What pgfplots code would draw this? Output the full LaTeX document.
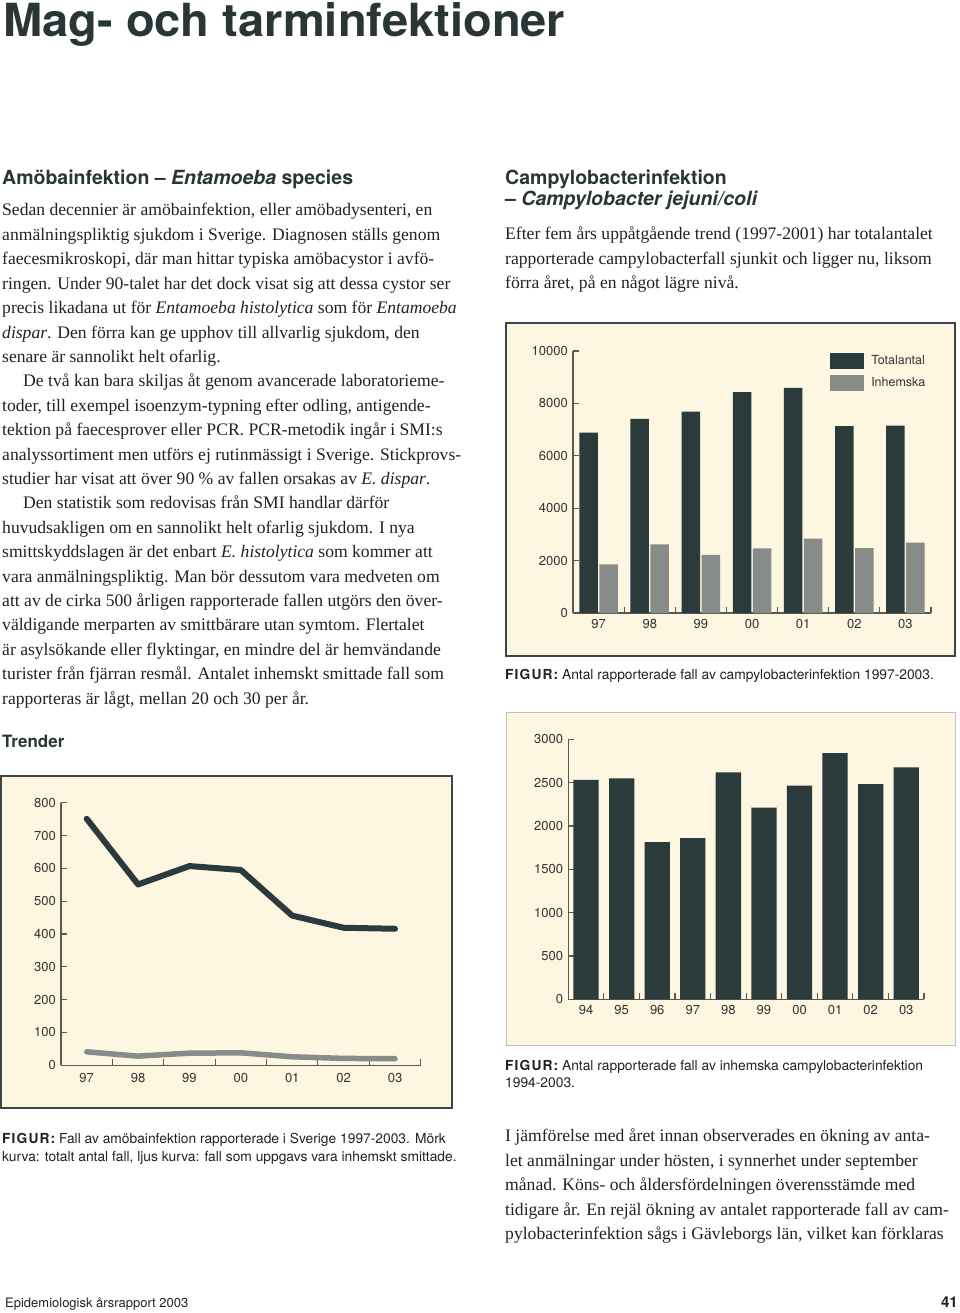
\documentclass[border=0pt]{standalone}
\usepackage{fontspec}
\setmainfont{Liberation Serif}
\setsansfont{TeX Gyre Heros}
\usepackage{pgfplots}
\pgfplotsset{compat=1.18}
\definecolor{dark}{HTML}{2B3A3A}
\definecolor{light}{HTML}{878C8A}
\definecolor{cream}{HTML}{FDF6E1}
\definecolor{framec}{HTML}{3C4646}
\definecolor{axiscol}{HTML}{5A5A55}
\definecolor{head}{HTML}{2A3636}
\definecolor{txt}{HTML}{222222}
\newcommand\bodyfont{\fontsize{17.6}{24}\selectfont}
\newcommand\headfont{\sffamily\bfseries\fontsize{19.5}{22}\selectfont}
\newcommand\capfont{\sffamily\fontsize{13.8}{18}\selectfont}
\newcommand\figur{{\bfseries\addfontfeature{LetterSpace=8}FIGUR:}}
\newcommand\bl[3]{\node[anchor=base west,inner sep=0pt,font=\bodyfont,text=txt] at (#1pt,-#2pt) {#3};}
\newcommand\hl[3]{\node[anchor=base west,inner sep=0pt,font=\headfont,text=head] at (#1pt,-#2pt) {#3};}
\newcommand\cl[3]{\node[anchor=base west,inner sep=0pt,font=\capfont,text=txt] at (#1pt,-#2pt) {#3};}
\pgfplotsset{pagestyle/.style={
  scale only axis, clip=false,
  axis x line*=bottom, axis y line*=left,
  axis line style={axiscol, line width=1.1pt},
  tick align=inside, major tick length=6pt,
  tick style={axiscol, line width=1.1pt},
  ticklabel style={font=\sffamily\fontsize{13}{13}\selectfont, text=black!80},
  xticklabel style={yshift=-2.7pt},
  yticklabel style={xshift=-1.7pt},
  /pgf/number format/assume math mode=true,
  /pgf/number format/1000 sep={},
  scaled y ticks=false,
  ymin=0,
}}
\begin{document}
\begin{tikzpicture}[x=1pt,y=1pt]
\fill[white] (0,0) rectangle (960,-1313);
% title
\node[anchor=base west,inner sep=0pt,text=head] at (3pt,-37pt) {\resizebox{562pt}{34pt}{\sffamily\bfseries\fontsize{46}{46}\selectfont Mag- och tarminfektioner}};
% left column
\hl{2}{185}{Amöbainfektion -- \textit{Entamoeba} species}
\bl{2}{216}{Sedan decennier är amöbainfektion, eller amöbadysenteri, en}
\bl{2}{240.4}{anmälningspliktig sjukdom i Sverige. Diagnosen ställs genom}
\bl{2}{264.8}{faecesmikroskopi, där man hittar typiska amöbacystor i avfö-}
\bl{2}{289.2}{ringen. Under 90-talet har det dock visat sig att dessa cystor ser}
\bl{2}{313.6}{precis likadana ut för \textit{Entamoeba histolytica} som för \textit{Entamoeba}}
\bl{2}{338}{\textit{dispar}. Den förra kan ge upphov till allvarlig sjukdom, den}
\bl{2}{362.4}{senare är sannolikt helt ofarlig.}
\bl{23}{386.8}{De två kan bara skiljas åt genom avancerade laboratorieme-}
\bl{2}{411.2}{toder, till exempel isoenzym-typning efter odling, antigende-}
\bl{2}{435.6}{tektion på faecesprover eller PCR. PCR-metodik ingår i SMI:s}
\bl{2}{460}{analyssortiment men utförs ej rutinmässigt i Sverige. Stickprovs-}
\bl{2}{484.4}{studier har visat att över 90 \% av fallen orsakas av \textit{E. dispar}.}
\bl{23}{508.8}{Den statistik som redovisas från SMI handlar därför}
\bl{2}{533.2}{huvudsakligen om en sannolikt helt ofarlig sjukdom. I nya}
\bl{2}{557.6}{smittskyddslagen är det enbart \textit{E. histolytica} som kommer att}
\bl{2}{582}{vara anmälningspliktig. Man bör dessutom vara medveten om}
\bl{2}{606.4}{att av de cirka 500 årligen rapporterade fallen utgörs den över-}
\bl{2}{630.8}{väldigande merparten av smittbärare utan symtom. Flertalet}
\bl{2}{655.2}{är asylsökande eller flyktingar, en mindre del är hemvändande}
\bl{2}{679.6}{turister från fjärran resmål. Antalet inhemskt smittade fall som}
\bl{2}{704}{rapporteras är lågt, mellan 20 och 30 per år.}
\hl{2}{747}{\fontsize{17}{20}\selectfont Trender}
% right column
\hl{505}{185}{Campylobacterinfektion}
\hl{505}{206}{-- \textit{Campylobacter jejuni/coli}}
\bl{505}{240}{Efter fem års uppåtgående trend (1997-2001) har totalantalet}
\bl{505}{264.4}{rapporterade campylobacterfall sjunkit och ligger nu, liksom}
\bl{505}{288.8}{förra året, på en något lägre nivå.}
% frames
\filldraw[fill=cream, draw=framec, line width=2pt] (506,-323) rectangle (955,-656);
\filldraw[fill=cream, draw=black!25, line width=0.8pt] (506,-712) rectangle (955,-1045);
\filldraw[fill=cream, draw=framec, line width=2pt] (1,-776) rectangle (452,-1108);
% captions
\cl{505}{679}{\figur\ Antal rapporterade fall av campylobacterinfektion 1997-2003.}
\cl{505}{1070}{\figur\ Antal rapporterade fall av inhemska campylobacterinfektion}
\cl{505}{1087}{1994-2003.}
\cl{2}{1143}{\figur\ Fall av amöbainfektion rapporterade i Sverige 1997-2003. Mörk}
\cl{2}{1161}{kurva: totalt antal fall, ljus kurva: fall som uppgavs vara inhemskt smittade.}
% bottom right text
\bl{505}{1141.5}{I jämförelse med året innan observerades en ökning av anta-}
\bl{505}{1166}{let anmälningar under hösten, i synnerhet under september}
\bl{505}{1190.5}{månad. Köns- och åldersfördelningen överensstämde med}
\bl{505}{1215}{tidigare år. En rejäl ökning av antalet rapporterade fall av cam-}
\bl{505}{1239.5}{pylobacterinfektion sågs i Gävleborgs län, vilket kan förklaras}
% footer
\node[anchor=base west,inner sep=0pt,font=\sffamily\fontsize{13}{13}\selectfont,text=txt] at (5pt,-1307pt) {Epidemiologisk årsrapport 2003};
\node[anchor=base east,inner sep=0pt,font=\sffamily\bfseries\fontsize{15}{15}\selectfont,text=txt] at (958pt,-1307pt) {41};

% Chart 1: campylobacter 1997-2003
\begin{axis}[pagestyle,
  at={(573pt,-613pt)}, anchor=south west,
  width=358pt, height=262pt,
  xmin=-0.5, xmax=6.5, ymax=10000,
  ytick={0,2000,4000,6000,8000,10000},
  xtick={-0.5,0.5,1.5,2.5,3.5,4.5,5.5,6.5},
  xticklabels={97,98,99,00,01,02,03,{}},
  xticklabel style={xshift=25.6pt},
  legend style={at={(0.718,0.994)}, anchor=north west, draw=none, fill=none,
    font=\sffamily\fontsize{12.5}{12.5}\selectfont, text=black!80,
    row sep=5.7pt, inner sep=0pt, nodes={inner sep=0pt, anchor=west},
    /tikz/every odd column/.style={column sep=7pt}},
]
\addplot[ybar, fill=dark, draw=none, bar width=18.5pt, bar shift=-10pt,
  legend image code/.code={\fill[dark] (0pt,-8.3pt) rectangle (34pt,8.3pt);}]
  coordinates {(0,6880) (1,7405) (2,7683) (3,8435) (4,8588) (5,7137) (6,7150)};
\addlegendentry{Totalantal}
\addplot[ybar, fill=light, draw=none, bar width=18.5pt, bar shift=10pt,
  legend image code/.code={\fill[light] (0pt,-8pt) rectangle (34pt,8pt);}]
  coordinates {(0,1858) (1,2622) (2,2214) (3,2468) (4,2837) (5,2481) (6,2684)};
\addlegendentry{Inhemska}
\end{axis}

% Chart 2: inhemska 1994-2003
\begin{axis}[pagestyle,
  at={(568.3pt,-999.3pt)}, anchor=south west,
  width=355.7pt, height=260pt,
  xmin=-0.5, xmax=9.5, ymax=3000,
  ytick={0,500,1000,1500,2000,2500,3000},
  xtick={-0.5,0.5,1.5,2.5,3.5,4.5,5.5,6.5,7.5,8.5,9.5},
  xticklabels={94,95,96,97,98,99,00,01,02,03,{}},
  xticklabel style={xshift=17.8pt},
]
\addplot[ybar, fill=dark, draw=none, bar width=25.3pt]
  coordinates {(0,2531) (1,2550) (2,1815) (3,1861) (4,2619) (5,2211) (6,2465) (7,2842) (8,2484) (9,2677)};
\end{axis}

% Chart 3: amoebainfektion
\begin{axis}[pagestyle,
  at={(61pt,-1065.3pt)}, anchor=south west,
  width=359.7pt, height=262.6pt,
  xmin=-0.5, xmax=6.5, ymax=800,
  ytick={0,100,200,300,400,500,600,700,800},
  xtick={-0.5,0.5,1.5,2.5,3.5,4.5,5.5,6.5},
  xticklabels={97,98,99,00,01,02,03,{}},
  xticklabel style={xshift=25.7pt, yshift=-1.3pt},
]
\addplot[light, line width=5.5pt, line cap=round, line join=round]
  coordinates {(0,41) (1,28) (2,37) (3,38) (4,26) (5,21) (6,20)};
\addplot[dark, line width=6pt, line cap=round, line join=round]
  coordinates {(0,751) (1,551) (2,607) (3,595) (4,456) (5,419) (6,416)};
\end{axis}
\pgfresetboundingbox
\useasboundingbox (0,0) rectangle (960,-1313);
\end{tikzpicture}
\end{document}
